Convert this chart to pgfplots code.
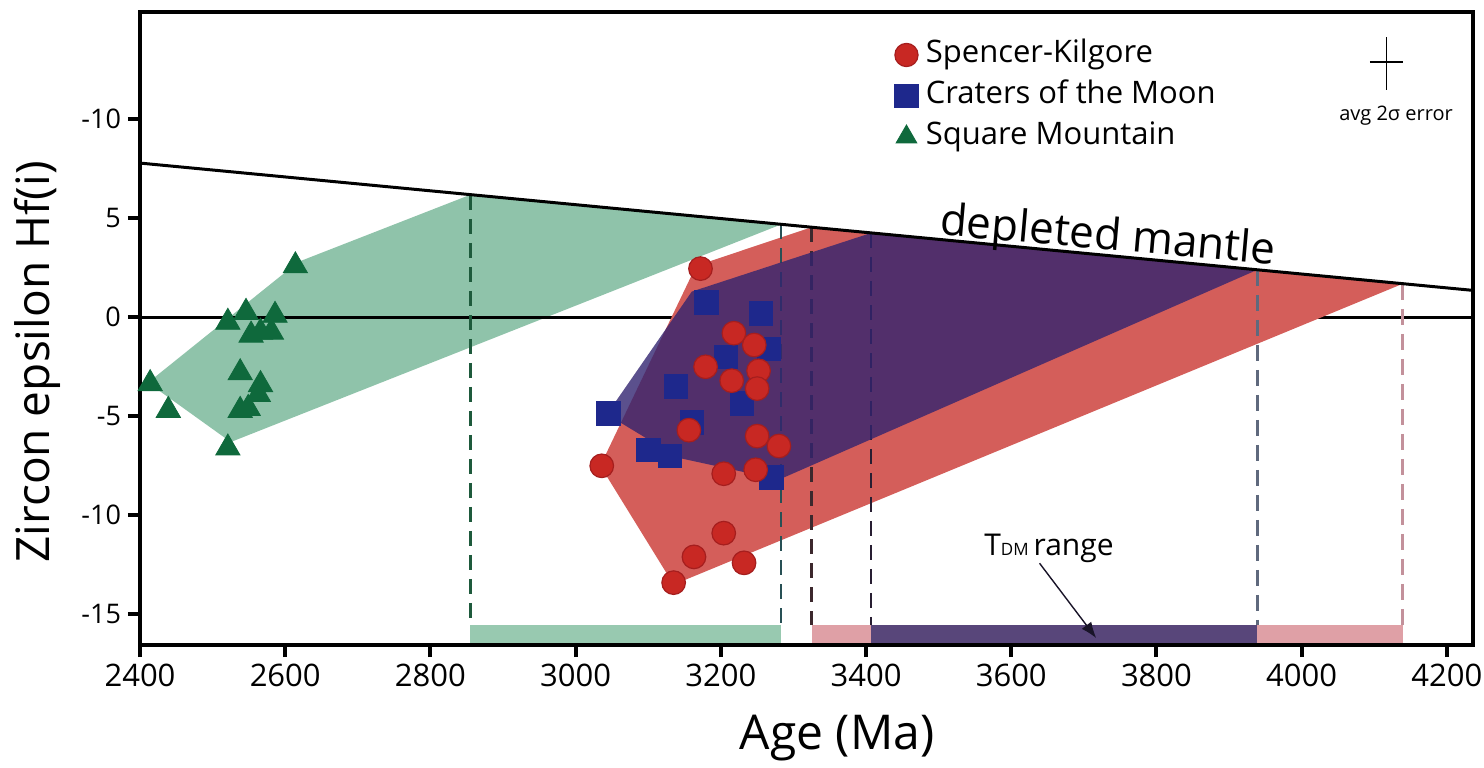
\documentclass[border=0pt]{standalone}
\usepackage{pgfplots}
\pgfplotsset{compat=1.18}
\usepackage{fontspec}
\setmainfont{Open Sans}
\usetikzlibrary{arrows.meta}

\definecolor{sqfield}{RGB}{143,195,170}
\definecolor{skfield}{RGB}{212,94,90}
\definecolor{cmfield}{RGB}{50,36,112}
\definecolor{sqbar}{RGB}{152,201,176}
\definecolor{skbar}{RGB}{223,160,166}
\definecolor{cmbar}{RGB}{88,70,122}
\definecolor{skmark}{RGB}{200,40,35}
\definecolor{skedge}{RGB}{165,30,30}
\definecolor{cmmark}{RGB}{30,40,140}
\definecolor{sqmark}{RGB}{15,105,60}

\begin{document}
\begin{tikzpicture}
\path[use as bounding box] (-70pt,-61pt) rectangle (672pt,322.5pt);
\begin{axis}[
  scale only axis,
  width=666.5pt, height=316.5pt,
  xmin=2400, xmax=4236, ymin=-16.55, ymax=15.42,
  clip=false,
  axis on top,
  axis line style={line width=2pt},
  xtick={2400,2600,2800,3000,3200,3400,3600,3800,4000,4200},
  ytick={-15,-10,-5,0,5,10},
  yticklabels={-15,-10,-5,0,5,-10},
  xtick pos=bottom, ytick pos=left,
  tick align=outside,
  major tick length=6pt,
  every tick/.style={black, line width=2pt},
  scaled x ticks=false,
  /pgf/number format/1000 sep={},
  /pgf/number format/assume math mode=true,
  xticklabel style={font=\fontsize{15.5}{18}\selectfont},
  yticklabel style={font=\fontsize{13.5}{15}\selectfont},
  legend style={draw=none, fill=none, at={(rel axis cs:0.566,0.958)}, anchor=north west,
    font=\fontsize{15.5}{19}\selectfont, row sep=4.5pt, inner sep=0pt,
    nodes={inner sep=0pt, text height=12pt, text depth=4pt}},
  legend cell align=left,
  legend image code/.code={\path (0pt,0pt) (15pt,0pt); \draw[#1, only marks] plot coordinates {(5.5pt,0pt)};},
]
% legend entries
\addlegendimage{only marks, mark=*, mark size=5.8pt, mark options={fill=skmark, draw=skedge, line width=0.6pt}}
\addlegendentry{Spencer-Kilgore}
\addlegendimage{only marks, mark=square*, mark size=5.8pt, mark options={fill=cmmark, draw=cmmark}}
\addlegendentry{Craters of the Moon}
\addlegendimage{only marks, mark=triangle*, mark size=6pt, mark options={fill=sqmark, draw=sqmark}}
\addlegendentry{Square Mountain}

% Square Mountain field
\addplot[fill=sqfield, draw=none, forget plot] coordinates {
  (2411,-3.3) (2525,-6.3) (3283,4.69) (2855,6.19) (2618,2.8) (2411,-3.3)} -- cycle;

% T_DM range bars
\addplot[fill=sqbar, draw=none, forget plot] coordinates {
  (2855,-16.55) (3283,-16.55) (3283,-15.55) (2855,-15.55)} -- cycle;
\addplot[fill=skbar, draw=none, forget plot] coordinates {
  (3325,-16.55) (4139,-16.55) (4139,-15.55) (3325,-15.55)} -- cycle;
\addplot[fill=cmbar, draw=none, forget plot] coordinates {
  (3407,-16.55) (3939,-16.55) (3939,-15.55) (3407,-15.55)} -- cycle;

% CHUR
\addplot[black, line width=1.5pt, forget plot] coordinates {(2400,0) (4236,0)};

% Spencer-Kilgore field
\addplot[fill=skfield, draw=none, forget plot] coordinates {
  (3034,-7.5) (3135,-13.5) (4139,1.69) (3325,4.55) (3166,2.6) (3034,-7.5)} -- cycle;

% model age projections
\addplot[color={rgb,255:red,30;green,90;blue,60}, line width=1.2pt, dash pattern=on 7.5pt off 4.5pt, forget plot]
  coordinates {(2855,6.19) (2855,-15.55)};
\addplot[color={rgb,255:red,40;green,80;blue,85}, line width=1.2pt, dash pattern=on 7.5pt off 4.5pt, forget plot]
  coordinates {(3283,4.69) (3283,-15.55)};
\addplot[color={rgb,255:red,60;green,40;blue,45}, line width=1.2pt, dash pattern=on 7.5pt off 4.5pt, forget plot]
  coordinates {(3325,4.55) (3325,-15.55)};
\addplot[color={rgb,255:red,40;green,30;blue,50}, line width=1.2pt, dash pattern=on 7.5pt off 4.5pt, forget plot]
  coordinates {(3407,4.26) (3407,-15.55)};
\addplot[color={rgb,255:red,95;green,105;blue,125}, line width=1.6pt, dash pattern=on 8pt off 4.5pt, forget plot]
  coordinates {(3939,2.40) (3939,-15.55)};
\addplot[color={rgb,255:red,195;green,145;blue,155}, line width=1.6pt, dash pattern=on 8pt off 4.5pt, forget plot]
  coordinates {(4139,1.69) (4139,-15.55)};

% Craters of the Moon field
\addplot[fill=cmfield, fill opacity=0.8, draw=none, forget plot] coordinates {
  (3043,-4.9) (3142,-7.1) (3280,-8.2) (3939,2.40) (3407,4.26) (3160,1.3) (3043,-4.9)} -- cycle;

% depleted mantle
\addplot[black, line width=1.5pt, forget plot] coordinates {(2400,7.79) (4236,1.36)};

% Craters of the Moon
\addplot[only marks, mark=square*, mark size=5.9pt, mark options={fill=cmmark, draw=cmmark}, forget plot]
  coordinates {(3045,-4.85) (3180,0.75) (3255,0.2) (3266,-1.6) (3207,-2.0) (3138,-3.5)
  (3229,-4.35) (3160,-5.3) (3100,-6.7) (3130,-7.0) (3270,-8.1)};

% Spencer-Kilgore
\addplot[only marks, mark=*, mark size=5.9pt, mark options={fill=skmark, draw=skedge, line width=0.6pt}, forget plot]
  coordinates {(3172,2.46) (3218,-0.8) (3246,-1.4) (3179,-2.5) (3215,-3.2) (3252,-2.7)
  (3250,-3.6) (3156,-5.7) (3250,-6.0) (3280,-6.5) (3036,-7.5) (3204,-7.9) (3248,-7.7)
  (3204,-10.9) (3163,-12.1) (3232,-12.4) (3135,-13.4)};

% Square Mountain
\addplot[only marks, mark=triangle*, mark size=7pt, mark options={fill=sqmark, draw=sqmark}, forget plot]
  coordinates {(2614,2.6) (2521,-0.25) (2546,0.25) (2586,0.1) (2553,-0.9) (2581,-0.75)
  (2566,-0.75) (2538,-2.8) (2566,-3.4) (2563,-3.9) (2538,-4.7) (2549,-4.6) (2414,-3.35)
  (2439,-4.7) (2521,-6.6)};

% annotations
\node[rotate=-5, font=\fontsize{22}{24}\selectfont] at (axis cs:3733,4.0) {depleted mantle};
\draw[line width=0.8pt] (axis cs:4094,12.88) -- (axis cs:4140,12.88);
\draw[line width=0.8pt] (axis cs:4117,14.14) -- (axis cs:4117,11.46);
\node[font=\fontsize{10}{12}\selectfont] at (axis cs:4130,10.2) {avg 2σ error};
\node[font=\fontsize{15}{17}\selectfont] at (axis cs:3652,-11.67) {T{\fontsize{8.5}{9}\selectfont DM}\,range};
\draw[-{Latex[length=8pt,width=6pt]}, line width=0.7pt, color={rgb,255:red,25;green,20;blue,40}]
  (axis cs:3639,-12.42) -- (axis cs:3717,-16.2);
\end{axis}
\node[rotate=90, font=\fontsize{23}{25}\selectfont] at (-51.5pt,141.5pt) {Zircon epsilon Hf(i)};
\node[font=\fontsize{24}{26}\selectfont] at (348.5pt,-46.5pt) {Age (Ma)};
\end{tikzpicture}
\end{document}
